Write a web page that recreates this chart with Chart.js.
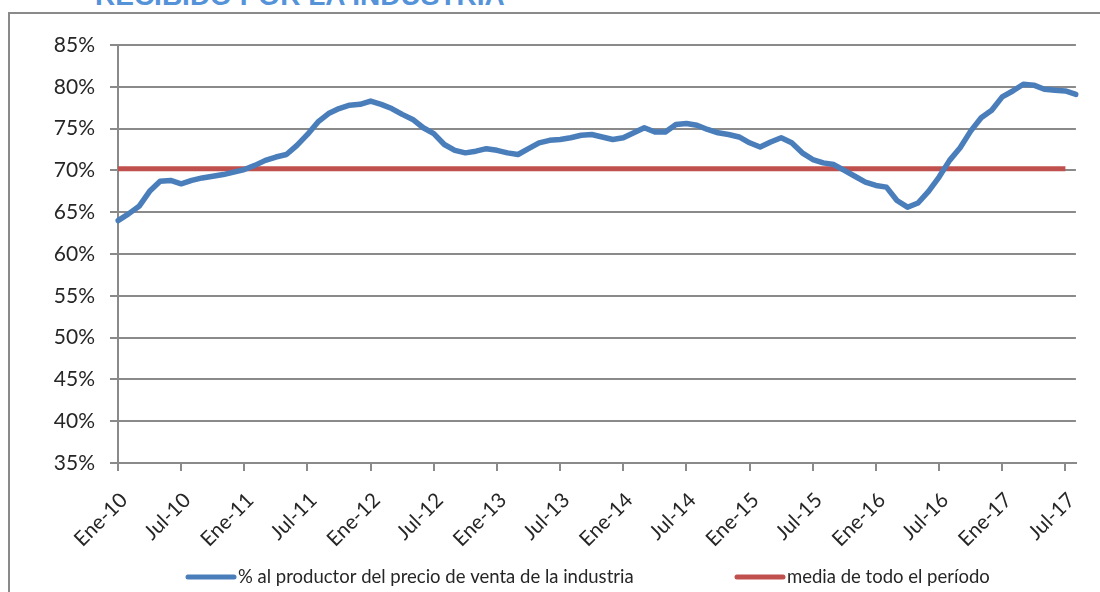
<!DOCTYPE html>
<html>
<head>
<meta charset="utf-8">
<script src="https://cdn.jsdelivr.net/npm/chart.js@4/dist/chart.umd.min.js"></script>
<style>
  body { margin: 0; width: 1100px; height: 592px; overflow: hidden; background: #fff; position: relative; }
  #titulo { position: absolute; left: 95px; top: -18px; font: bold 28px/28px "Liberation Sans", Arial, sans-serif; color: #5593d9; white-space: nowrap; }
  #marco { position: absolute; left: 8px; top: 12px; width: 1200px; height: 700px; border: 2px solid #8a8a8a; }
  #grafico { position: absolute; left: 0; top: 0; }
</style>
</head>
<body>
<div id="titulo">RECIBIDO POR LA INDUSTRIA</div>
<div id="marco"></div>
<canvas id="grafico" width="1100" height="592"></canvas>
<script>
// meses ene-2010 .. ago-2017
const meses = ['Ene', 'Feb', 'Mar', 'Abr', 'May', 'Jun', 'Jul', 'Ago', 'Sep', 'Oct', 'Nov', 'Dic'];
const anios = ['10', '11', '12', '13', '14', '15', '16', '17'];
const etiquetas = [];
anios.forEach(a => meses.forEach(m => etiquetas.push(m + '-' + a)));
etiquetas.length = 92;

// % al productor del precio de venta de la industria
const porcentajeProductor = [
  64.0, 64.8, 65.7, 67.5, 68.7, 68.8, 68.4, 68.8, 69.1, 69.3, 69.5, 69.8,
  70.1, 70.6, 71.2, 71.6, 71.9, 73.0, 74.3, 75.8, 76.8, 77.4, 77.8, 77.9,
  78.3, 77.9, 77.4, 76.7, 76.1, 75.1, 74.4, 73.1, 72.4, 72.1, 72.3, 72.6,
  72.4, 72.1, 71.9, 72.6, 73.3, 73.6, 73.7, 73.9, 74.2, 74.3, 74.0, 73.7,
  73.9, 74.5, 75.1, 74.6, 74.6, 75.5, 75.6, 75.4, 74.9, 74.5, 74.3, 74.0,
  73.3, 72.8, 73.4, 73.9, 73.3, 72.1, 71.3, 70.9, 70.7, 70.0, 69.3, 68.6,
  68.2, 68.0, 66.4, 65.6, 66.1, 67.5, 69.2, 71.2, 72.7, 74.7, 76.3, 77.2,
  78.8, 79.5, 80.3, 80.2, 79.7, 79.6, 79.5, 79.1
];

// media de todo el periodo (hasta jul-17)
const mediaPeriodo = [
  70.2, 70.2, 70.2, 70.2, 70.2, 70.2, 70.2, 70.2, 70.2, 70.2, 70.2, 70.2,
  70.2, 70.2, 70.2, 70.2, 70.2, 70.2, 70.2, 70.2, 70.2, 70.2, 70.2, 70.2,
  70.2, 70.2, 70.2, 70.2, 70.2, 70.2, 70.2, 70.2, 70.2, 70.2, 70.2, 70.2,
  70.2, 70.2, 70.2, 70.2, 70.2, 70.2, 70.2, 70.2, 70.2, 70.2, 70.2, 70.2,
  70.2, 70.2, 70.2, 70.2, 70.2, 70.2, 70.2, 70.2, 70.2, 70.2, 70.2, 70.2,
  70.2, 70.2, 70.2, 70.2, 70.2, 70.2, 70.2, 70.2, 70.2, 70.2, 70.2, 70.2,
  70.2, 70.2, 70.2, 70.2, 70.2, 70.2, 70.2, 70.2, 70.2, 70.2, 70.2, 70.2,
  70.2, 70.2, 70.2, 70.2, 70.2, 70.2, 70.2
];

const ejeY = [35, 85, 5];

const fuente = "Lato, 'Open Sans', sans-serif";
const gris = '#8a8a8a';
const texto = '#262626';

// leyenda al estilo excel, abajo
const leyendaExcel = {
  id: 'leyendaExcel',
  afterDraw(chart) {
    const c = chart.ctx;
    const xs = [186, 735];
    const y = 577;
    c.save();
    c.font = '18.5px ' + fuente;
    c.textBaseline = 'middle';
    c.textAlign = 'left';
    chart.data.datasets.forEach((ds, i) => {
      c.strokeStyle = ds.borderColor;
      c.lineWidth = 5;
      c.lineCap = 'round';
      c.beginPath();
      c.moveTo(xs[i] + 2, y);
      c.lineTo(xs[i] + 48, y);
      c.stroke();
      c.fillStyle = texto;
      c.fillText(ds.label, xs[i] + 52, y);
    });
    c.restore();
  }
};

new Chart(document.getElementById('grafico'), {
  type: 'line',
  data: {
    labels: etiquetas,
    datasets: [
      {
        label: '% al productor del precio de venta de la industria',
        data: porcentajeProductor,
        borderColor: '#4a7ebb',
        backgroundColor: '#4a7ebb',
        borderWidth: 5.5,
        borderCapStyle: 'round',
        borderJoinStyle: 'round',
        pointRadius: 0,
        tension: 0
      },
      {
        label: 'media de todo el período',
        data: mediaPeriodo,
        borderColor: '#c0504d',
        backgroundColor: '#c0504d',
        borderWidth: 5,
        borderCapStyle: 'butt',
        pointRadius: 0,
        tension: 0
      }
    ]
  },
  options: {
    responsive: false,
    animation: false,
    layout: { padding: { top: 45, right: 20, left: 0, bottom: 0 } },
    plugins: {
      legend: { display: false },
      tooltip: { enabled: false }
    },
    scales: {
      x: {
        offset: false,
        grid: { drawOnChartArea: false, color: gris, lineWidth: 2, tickLength: 8 },
        border: { color: gris, width: 2 },
        ticks: {
          autoSkip: false,
          minRotation: 45,
          maxRotation: 45,
          padding: 17,
          labelOffset: 6,
          color: texto,
          font: { family: fuente, size: 20.5 },
          callback: function (v, i) { return i % 6 === 0 ? this.getLabelForValue(v) : null; }
        },
        afterFit: s => { s.height = 129; }
      },
      y: {
        min: ejeY[0],
        max: ejeY[1],
        grid: { color: gris, lineWidth: 2, tickLength: 8 },
        border: { color: gris, width: 2 },
        ticks: {
          stepSize: ejeY[2],
          padding: 15,
          color: texto,
          font: { family: fuente, size: 21 },
          callback: v => v + '%'
        },
        afterFit: s => { s.width = 118; }
      }
    }
  },
  plugins: [leyendaExcel]
});
</script>
</body>
</html>
